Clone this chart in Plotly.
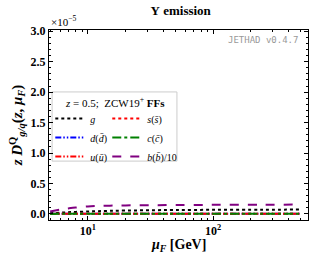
import plotly.graph_objects as go

# Data (values in units of 1e-5)
mu = [5, 6, 7, 8, 10, 12, 15, 20, 30, 50, 100, 200, 300, 500]
g_vals = [0.01, 0.02, 0.028, 0.033, 0.04, 0.045, 0.05, 0.055, 0.06, 0.064, 0.067, 0.069, 0.07, 0.071]
d_vals = [0.0, 0.001, 0.001, 0.002, 0.002, 0.002, 0.003, 0.003, 0.003, 0.003, 0.004, 0.004, 0.004, 0.004]
u_vals = [0.0, 0.001, 0.001, 0.002, 0.002, 0.002, 0.003, 0.003, 0.003, 0.003, 0.004, 0.004, 0.004, 0.004]
s_vals = [0.0, 0.001, 0.001, 0.002, 0.002, 0.002, 0.003, 0.003, 0.003, 0.003, 0.004, 0.004, 0.004, 0.004]
c_vals = [0.0, 0.001, 0.001, 0.002, 0.002, 0.002, 0.003, 0.003, 0.003, 0.003, 0.004, 0.004, 0.004, 0.004]
b10_vals = [0.04, 0.07, 0.09, 0.105, 0.122, 0.13, 0.136, 0.14, 0.143, 0.146, 0.149, 0.151, 0.152, 0.153]

ddot = "6px,2px,1.5px,2px,1.5px,2px"
series = [
    ("<i>g</i>", g_vals, "black", "dot", "legend"),
    ("<i>d</i>(<i>d̄</i>)", d_vals, "blue", ddot, "legend"),
    ("<i>u</i>(<i>ū</i>)", u_vals, "red", ddot, "legend"),
    ("<i>s</i>(<i>s̄</i>)", s_vals, "red", "dot", "legend2"),
    ("<i>c</i>(<i>c̄</i>)", c_vals, "green", "dashdot", "legend2"),
    ("<i>b</i>(<i>b̄</i>)/10", b10_vals, "purple", "dash", "legend2"),
]

SERIF = "Liberation Serif"

fig = go.Figure()
for name, vals, color, dash, lg in series:
    fig.add_trace(go.Scatter(x=mu, y=vals, mode="lines", name=name, legend=lg,
                             line=dict(color=color, dash=dash, width=2, shape="spline")))

axis_common = dict(ticks="inside", mirror="allticks", showline=True, linecolor="black",
                   linewidth=1, tickcolor="black", ticklen=4, showgrid=False, zeroline=False,
                   automargin=False, tickfont=dict(family=SERIF, size=12, color="black"))

fig.update_xaxes(type="log", range=[0.69, 2.757], tickvals=[10, 100],
                 ticktext=["<b>10<sup>1</sup></b>", "<b>10<sup>2</sup></b>"],
                 minor=dict(ticks="inside", ticklen=2, tickcolor="black",
                            tickvals=[5, 6, 7, 8, 9, 20, 30, 40, 50, 60, 70, 80, 90, 200, 300, 400, 500]),
                 **axis_common)
fig.update_yaxes(range=[-0.1, 3.02], tickvals=[0, 0.5, 1.0, 1.5, 2.0, 2.5, 3.0],
                 ticktext=["<b>0.0</b>", "<b>0.5</b>", "<b>1.0</b>", "<b>1.5</b>", "<b>2.0</b>", "<b>2.5</b>", "<b>3.0</b>"],
                 minor=dict(ticks="inside", ticklen=2, tickcolor="black", dtick=0.1),
                 title=dict(text="<b><i>z D</i><sup>Q</sup><sub><i>g/q</i></sub>(<i>z</i>, <i>μ<sub>F</sub></i>)</b>",
                            font=dict(family=SERIF, size=15, color="black"), standoff=4),
                 **axis_common)

legend_common = dict(orientation="v", xanchor="left", yanchor="top", bgcolor="rgba(0,0,0,0)",
                     borderwidth=0, font=dict(family=SERIF, size=10, color="black"),
                     itemwidth=30, tracegroupgap=0)

fig.update_layout(
    width=317, height=254,
    margin=dict(l=49, r=9, t=30, b=34),
    plot_bgcolor="white", paper_bgcolor="white",
    title=dict(text="<b>Υ emission</b>", x=0.57, xanchor="center", y=0.96, yanchor="middle",
               font=dict(family=SERIF, size=13, color="black")),
    legend=dict(x=0.005, y=0.61, **legend_common),
    legend2=dict(x=0.225, y=0.61, **legend_common),
    shapes=[dict(type="rect", xref="paper", yref="paper", x0=0.012, x1=0.494, y0=0.31, y1=0.674,
                 line=dict(color="#cccccc", width=1), fillcolor="rgba(255,255,255,0.85)", layer="below")],
    annotations=[
        dict(text="×10<sup>−5</sup>", xref="paper", yref="paper", x=0.0, y=1.0, xanchor="left", yanchor="bottom",
             showarrow=False, font=dict(family=SERIF, size=11, color="black")),
        dict(text="JETHAD v0.4.7", xref="paper", yref="paper", x=0.97, y=0.985, xanchor="right", yanchor="top",
             showarrow=False, font=dict(family="DejaVu Sans Mono", size=9, color="#999999")),
        dict(text="<i>z</i> = 0.5;  ZCW19<sup>+</sup> <b>FFs</b>", xref="paper", yref="paper", x=0.253, y=0.62,
             xanchor="center", yanchor="middle", showarrow=False,
             font=dict(family=SERIF, size=11, color="black")),
        dict(text="<b><i>μ<sub>F</sub></i> [GeV]</b>", xref="paper", yref="paper", x=0.5, y=-0.135,
             xanchor="center", yanchor="middle", showarrow=False,
             font=dict(family=SERIF, size=14, color="black")),
    ],
)

fig.write_html("out.html", config={"displayModeBar": False},
               post_script="document.body.style.margin='0';document.body.style.overflow='hidden';")
